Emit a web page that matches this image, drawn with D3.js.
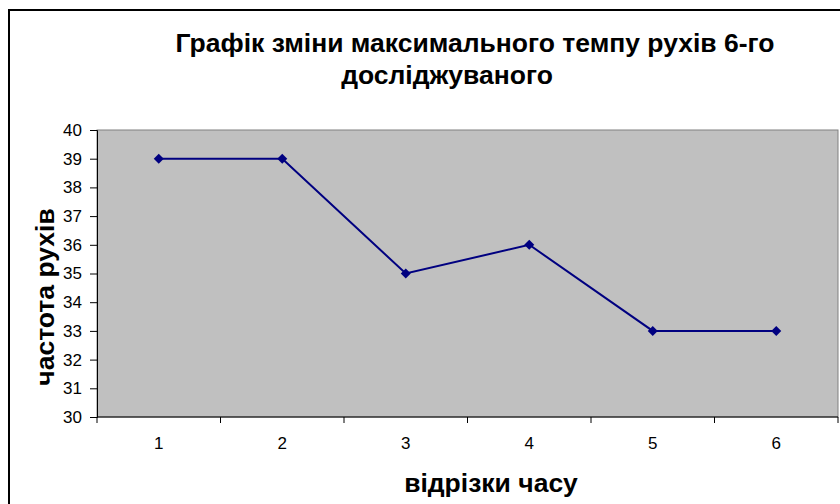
<!DOCTYPE html>
<html>
<head>
<meta charset="utf-8">
<script src="https://cdn.jsdelivr.net/npm/d3@7"></script>
<style>
  body { margin: 0; background: #fff; }
  svg { display: block; font-family: "Liberation Sans", Arial, sans-serif; }
</style>
</head>
<body>
<div id="chart"></div>
<script>
// chart data
var categories = ["1", "2", "3", "4", "5", "6"];
var values = [39, 39, 35, 36, 33, 33];
var yTicks = [30, 31, 32, 33, 34, 35, 36, 37, 38, 39, 40];
var titleLines = ["Графік зміни максимального темпу рухів 6-го", "досліджуваного"];
var xTitle = "відрізки часу";
var yTitle = "частота рухів";

var W = 840, H = 504;
var margin = { left: 97, top: 130, right: 2, bottom: 87 };

var svg = d3.select("#chart").append("svg")
  .attr("width", W)
  .attr("height", H);

// outer chart frame
svg.append("rect")
  .attr("x", 9).attr("y", 10)
  .attr("width", 900).attr("height", 600)
  .attr("fill", "#fff")
  .attr("stroke", "#000")
  .attr("stroke-width", 2);

var plotW = W - margin.left - margin.right;
var plotH = H - margin.top - margin.bottom;

var x = d3.scaleBand()
  .domain(categories)
  .range([margin.left, margin.left + plotW]);

var y = d3.scaleLinear()
  .domain([30, 40])
  .range([margin.top + plotH, margin.top]);

// plot area
svg.append("rect")
  .attr("x", margin.left).attr("y", margin.top)
  .attr("width", plotW).attr("height", plotH)
  .attr("fill", "#c0c0c0")
  .attr("stroke", "#808080")
  .attr("stroke-width", 1);

// y axis
var yAxis = d3.axisLeft(y)
  .tickValues(yTicks)
  .tickSize(7)
  .tickPadding(8);

var yG = svg.append("g")
  .attr("transform", "translate(" + margin.left + ",0)")
  .call(yAxis);
yG.select(".domain").attr("stroke", "#000");
yG.selectAll("text").attr("font-size", "17px").attr("fill", "#000")
  .attr("font-family", "Liberation Sans, Arial, sans-serif");

// x axis line + ticks at category boundaries
var xG = svg.append("g")
  .attr("transform", "translate(0," + (margin.top + plotH) + ")");
xG.append("line")
  .attr("x1", margin.left).attr("x2", margin.left + plotW)
  .attr("stroke", "#000");
var bounds = categories.map(function (c) { return x(c); }).concat([x.range()[1]]);
xG.selectAll(".xtick").data(bounds).enter()
  .append("line")
  .attr("class", "xtick")
  .attr("x1", function (d) { return d; })
  .attr("x2", function (d) { return d; })
  .attr("y1", 0).attr("y2", 6)
  .attr("stroke", "#000");
xG.selectAll(".xlabel").data(categories).enter()
  .append("text")
  .attr("class", "xlabel")
  .attr("x", function (d) { return x(d) + x.bandwidth() / 2; })
  .attr("y", 32)
  .attr("text-anchor", "middle")
  .attr("font-size", "17px")
  .text(function (d) { return d; });

// line
var line = d3.line()
  .x(function (d, i) { return x(categories[i]) + x.bandwidth() / 2; })
  .y(function (d) { return y(d); });

svg.append("path")
  .datum(values)
  .attr("d", line)
  .attr("fill", "none")
  .attr("stroke", "#000080")
  .attr("stroke-width", 2);

// diamond markers
svg.selectAll(".marker")
  .data(values).enter()
  .append("path")
  .attr("class", "marker")
  .attr("d", d3.symbol().type(d3.symbolDiamond2).size(64))
  .attr("transform", function (d, i) {
    return "translate(" + (x(categories[i]) + x.bandwidth() / 2) + "," + y(d) + ")";
  })
  .attr("fill", "#000080");

// title
svg.append("text")
  .attr("x", 475).attr("y", 52)
  .attr("text-anchor", "middle")
  .attr("font-size", "26.5px")
  .attr("font-weight", "bold")
  .text(titleLines[0]);
svg.append("text")
  .attr("x", 447).attr("y", 84)
  .attr("text-anchor", "middle")
  .attr("font-size", "26.5px")
  .attr("font-weight", "bold")
  .text(titleLines[1]);

// axis titles
svg.append("text")
  .attr("x", 491).attr("y", 492)
  .attr("text-anchor", "middle")
  .attr("font-size", "26.5px")
  .attr("font-weight", "bold")
  .text(xTitle);

svg.append("text")
  .attr("transform", "translate(54,297) rotate(-90)")
  .attr("text-anchor", "middle")
  .attr("font-size", "26.5px")
  .attr("font-weight", "bold")
  .text(yTitle);
</script>
</body>
</html>
